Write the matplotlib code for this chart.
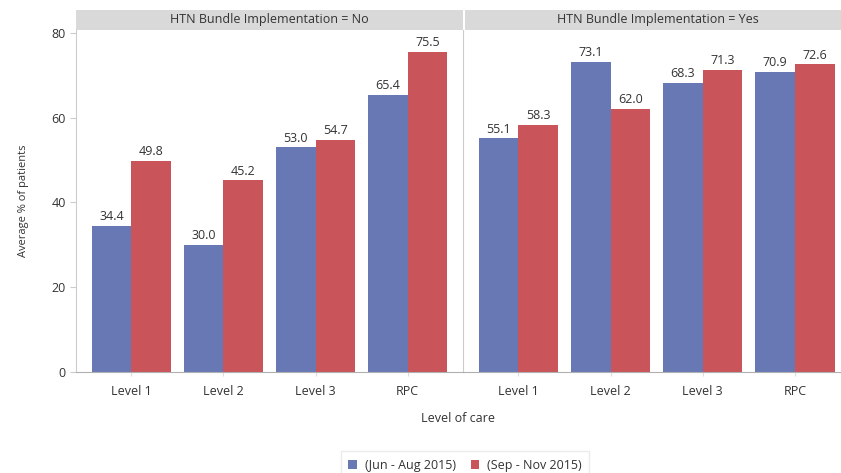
import matplotlib.pyplot as plt
import numpy as np

plt.rcParams['font.family'] = ['Open Sans', 'DejaVu Sans']

levels = ["Level 1", "Level 2", "Level 3", "RPC"]
panels = ["HTN Bundle Implementation = No", "HTN Bundle Implementation = Yes"]
jun_aug = [[34.4, 30.0, 53.0, 65.4], [55.1, 73.1, 68.3, 70.9]]
sep_nov = [[49.8, 45.2, 54.7, 75.5], [58.3, 62.0, 71.3, 72.6]]
series_names = ["(Jun - Aug 2015)", "(Sep - Nov 2015)"]

blue = "#6878b4"
red = "#c9545a"
grey_txt = "#333333"
axis_col = "#b0b0b0"

fig = plt.figure(figsize=(8.41, 4.73), dpi=100)
x = np.arange(len(levels))
w = 0.43

left = 76 / 841
mid = 463 / 841
bottom = 1 - 372 / 473
top = 1 - 30 / 473
strip_h = 20 / 473
positions = [(left, mid - left), (mid, 1.0 - mid)]
xlims = [(-0.6, 3.6), (-0.6, 3.5)]

axes = []
for i in range(2):
    x0, wd = positions[i]
    ax = fig.add_axes([x0, bottom, wd, top - bottom])
    axes.append(ax)
    b1 = ax.bar(x - w / 2, jun_aug[i], w, color=blue, label=series_names[0])
    b2 = ax.bar(x + w / 2, sep_nov[i], w, color=red, label=series_names[1])
    for bars in (b1, b2):
        ax.bar_label(bars, fmt="%.1f", padding=2, fontsize=9, color=grey_txt)
    ax.set_ylim(0, 80.7)
    ax.set_xlim(*xlims[i])
    ax.set_xticks(x)
    ax.set_xticklabels(levels, fontsize=9, color=grey_txt)
    ax.tick_params(axis='x', length=3, color="#dddddd", pad=6)
    for s in ("top", "right"):
        ax.spines[s].set_visible(False)
    ax.spines["bottom"].set_color(axis_col)
    ax.spines["left"].set_color("#cccccc")
    if i == 0:
        ax.set_yticks([0, 20, 40, 60, 80])
        ax.tick_params(axis='y', labelsize=9, colors=grey_txt, color="#cccccc", length=4)
        ax.set_ylabel("Average % of patients", fontsize=8, color=grey_txt, labelpad=16)
    else:
        ax.set_yticks([])
    # panel header strip
    sax = fig.add_axes([x0 + (0.002 if i == 1 else 0), top, wd, strip_h])
    sax.set_facecolor("#d9d9d9")
    sax.set_xticks([])
    sax.set_yticks([])
    for s in sax.spines.values():
        s.set_visible(False)
    sax.text(0.5 if i == 0 else 0.512, 0.5, panels[i],
             ha="center", va="center", fontsize=9, color=grey_txt, transform=sax.transAxes)

fig.text((76 + 840) / 2 / 841, 1 - 418 / 473, "Level of care", ha="center", va="center",
         fontsize=9, color=grey_txt)

handles, labels = axes[0].get_legend_handles_labels()
leg = fig.legend(handles, labels, loc="center", bbox_to_anchor=(465 / 841, 1 - 465 / 473),
                 ncol=2, fontsize=9, frameon=True, handlelength=0.7, handleheight=0.7,
                 columnspacing=1.2, handletextpad=0.6, borderpad=0.3)
leg.get_frame().set_edgecolor("#e6e6e6")
leg.get_frame().set_boxstyle("square")
for t in leg.get_texts():
    t.set_color(grey_txt)

fig.savefig("out.png", dpi=100)
